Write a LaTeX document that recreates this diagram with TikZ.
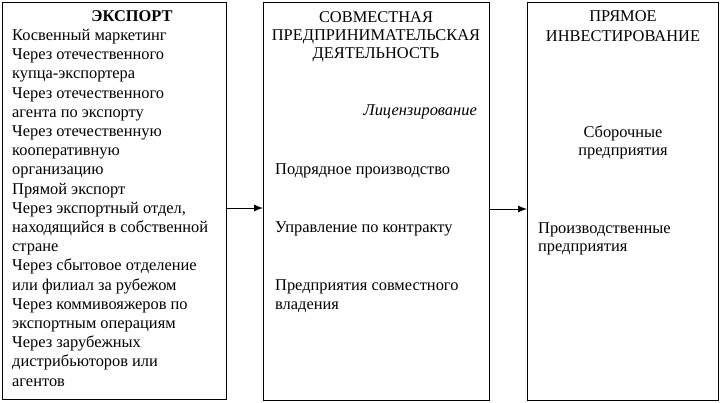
\documentclass[tikz,border=0pt]{standalone}
\usepackage{fontspec}
\setmainfont{Liberation Serif}
\usetikzlibrary{arrows.meta}
\begin{document}
\begin{tikzpicture}[x=1pt,y=-1pt,
  box/.style={draw, line width=1pt, inner sep=0, anchor=north west},
  txt/.style={inner sep=0, anchor=base west, font=\fontsize{16.4}{19.2}\selectfont},
  ctxt/.style={txt, anchor=base},
  link/.style={line width=1pt, -{Latex[length=9pt,width=7pt]}}]
\useasboundingbox (0,0) rectangle (720,402);
\node[box, minimum width=224pt, minimum height=397pt] (L) at (2,2) {};
\node[box, minimum width=226pt, minimum height=398pt] (M) at (263,2) {};
\node[box, minimum width=191pt, minimum height=398pt] (R) at (527,2) {};
% left box
\node[ctxt, font=\fontsize{16.4}{19.2}\selectfont\bfseries] (eh) at (132,21.3) {ЭКСПОРТ};
\foreach \t [count=\i from 0] in {Косвенный маркетинг, Через отечественного, купца-экспортера,
  Через отечественного, агента по экспорту, Через отечественную, кооперативную, организацию,
  Прямой экспорт, {Через экспортный отдел,}, находящийся в собственной, стране,
  Через сбытовое отделение, или филиал за рубежом, Через коммивояжеров по,
  экспортным операциям, Через зарубежных, дистрибьюторов или, агентов}
  \node[txt] (e\i) at (12,{40.5+19.2*\i}) {\t};
% middle box
\node[ctxt] (m1) at (376,22) {СОВМЕСТНАЯ};
\node[ctxt] (m2) at (376,40.5) {ПРЕДПРИНИМАТЕЛЬСКАЯ};
\node[ctxt] (m3) at (376,58.8) {ДЕЯТЕЛЬНОСТЬ};
\node[txt, anchor=base east, font=\fontsize{16.4}{19.2}\selectfont\itshape] (lic) at (477,115) {Лицензирование};
\node[txt] (pod) at (275,174) {Подрядное производство};
\node[txt] (upr) at (275,232) {Управление по контракту};
\node[txt] (pr1) at (275,290.7) {Предприятия совместного};
\node[txt] (pr2) at (275,309) {владения};
% right box
\node[ctxt] (r1) at (623,21.7) {ПРЯМОЕ};
\node[ctxt] (r2) at (623,41.2) {ИНВЕСТИРОВАНИЕ};
\node[ctxt] (sb1) at (623,137) {Сборочные};
\node[ctxt] (sb2) at (623,155) {предприятия};
\node[txt] (pv1) at (538,233) {Производственные};
\node[txt] (pv2) at (538,251) {предприятия};
% arrows
\draw[link] (L.east |- 0,208) -- (M.west |- 0,208);
\draw[link] (M.east |- 0,209) -- (R.west |- 0,209);
\end{tikzpicture}
\end{document}
